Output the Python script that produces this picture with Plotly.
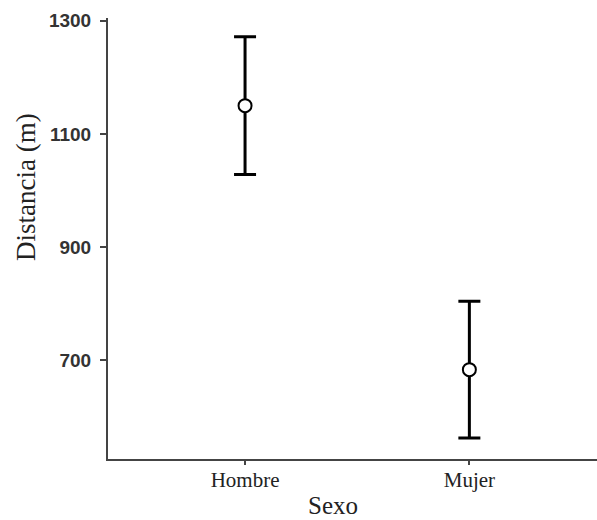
import plotly.graph_objects as go

categories = ["Hombre", "Mujer"]
means = [1150, 683]
errors = [122, 121]
y_ticks = [700, 900, 1100, 1300]

x_idx = list(range(len(categories)))

fig = go.Figure()
fig.add_trace(go.Scatter(
    x=x_idx, y=means, mode="markers",
    marker=dict(symbol="circle", size=13, color="white", line=dict(color="black", width=2)),
    error_y=dict(type="data", array=errors, visible=True, color="black", thickness=3, width=11),
    showlegend=False,
))

fig.update_layout(
    width=597, height=520,
    margin=dict(l=108, r=0, t=18, b=61),
    paper_bgcolor="white", plot_bgcolor="white",
    xaxis=dict(
        range=[-0.611, 1.569], tickvals=x_idx, ticktext=categories,
        showline=True, linecolor="#444", linewidth=2, mirror=False,
        ticks="outside", ticklen=4, tickwidth=2, tickcolor="#444",
        showgrid=False, zeroline=False, ticklabelstandoff=-3,
        tickfont=dict(family="Liberation Serif", size=21, color="#222"),
    ),
    yaxis=dict(
        range=[525, 1305], tickvals=y_ticks,
        showline=True, linecolor="#444", linewidth=2,
        ticks="outside", ticklen=6, tickwidth=2, tickcolor="#444",
        showgrid=False, zeroline=False, ticklabelstandoff=5,
        tickfont=dict(family="Liberation Sans", size=19, color="#333", weight="bold"),
    ),
    annotations=[
        dict(text="Sexo", x=333, y=505, xref="paper", yref="paper", showarrow=False,
             font=dict(family="Liberation Serif", size=25, color="#222")),
        dict(text="Distancia (m)", x=26, y=187, xref="paper", yref="paper", showarrow=False,
             textangle=-90, font=dict(family="Liberation Serif", size=27, color="#222")),
    ],
)

# convert pixel positions to paper coordinates for annotations
pw = 597 - 108 - 0
ph = 520 - 18 - 61
for a in fig.layout.annotations:
    px, py = a.x, a.y
    a.x = (px - 108) / pw
    a.y = (520 - 61 - py) / ph
    a.xanchor = "center"
    a.yanchor = "middle"

fig.write_html("out.html")
